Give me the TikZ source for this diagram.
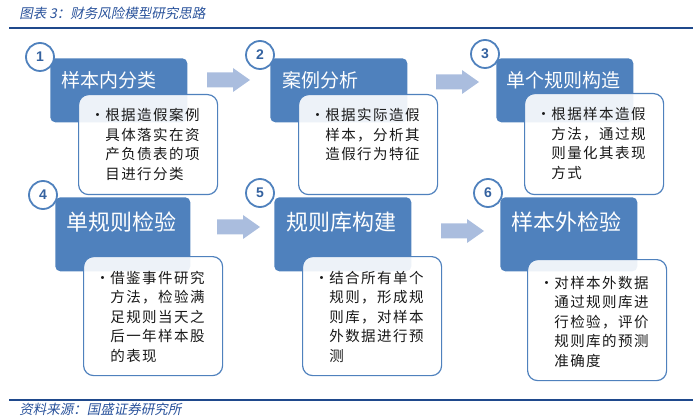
\documentclass[tikz,border=0pt]{standalone}
\usepackage{fontspec}
\setmainfont{Noto Sans CJK SC}
\newfontfamily\numfont{Liberation Sans}
\newfontfamily\notefont[LetterSpace=10]{Noto Sans CJK SC}
\newfontfamily\capfont[FakeSlant=0.2]{Noto Sans CJK SC}
\usepackage{tikz}
\definecolor{boxblue}{RGB}{79,129,189}
\definecolor{numblue}{RGB}{52,98,160}
\definecolor{arrowblue}{RGB}{170,189,222}
\definecolor{capblue}{RGB}{41,82,155}
\definecolor{ruleblue}{RGB}{31,73,140}

\begin{document}
\begin{tikzpicture}[x=1pt,y=-1pt,semithick]

  \tikzstyle{headbox}=[fill=boxblue,draw=none,rounded corners=5pt,anchor=north west,
                       inner sep=0pt,minimum width=137pt,minimum height=64pt]
  \tikzstyle{headtext}=[anchor=west,inner sep=0pt,text=white]
  \tikzstyle{notebox}=[draw=boxblue,line width=1.2pt,fill=white,fill opacity=0.9,
                       rounded corners=10pt,anchor=north west,inner sep=0pt,
                       minimum width=139pt,minimum height=100pt]
  \tikzstyle{notetext}=[anchor=base west,inner sep=0pt,text width=130pt,align=left,
                        text=black!90,font=\notefont\fontsize{14.5}{19.5}\selectfont]
  \tikzstyle{numcircle}=[circle,draw=boxblue,line width=1.8pt,fill=white,inner sep=0pt,
                         minimum size=28pt,text=numblue,
                         font=\numfont\bfseries\fontsize{14}{14}\selectfont]

  \useasboundingbox (0,0) rectangle (700,419);

  % caption and rules
  \node[anchor=west,inner sep=0pt,text=capblue,font=\capfont\fontsize{13.5}{13.5}\selectfont]
        (C) at (19,13) {图表 3：财务风险模型研究思路};
  \draw[ruleblue,line width=2pt] (9,28) -- (693,28);
  \draw[ruleblue,line width=1.5pt] (9,400) -- (693,400);
  \node[anchor=west,inner sep=0pt,text=capblue,font=\capfont\fontsize{13.5}{13.5}\selectfont]
        (S) at (19,409) {资料来源：国盛证券研究所};

  % blocks
  \node[headbox]                       (B1) at (50,58)   {};
  \node[headbox]                       (B2) at (270,58)  {};
  \node[headbox]                       (B3) at (496,58)  {};
  \node[headbox,minimum width=135pt,minimum height=74pt] (B4) at (55,197) {};
  \node[headbox,minimum height=74pt]   (B5) at (274,197) {};
  \node[headbox,minimum height=74pt]   (B6) at (500,197) {};

  \node[headtext,font=\fontsize{19}{19}\selectfont] (H1) at ([shift={(11,22)}]B1.north west) {样本内分类};
  \node[headtext,font=\fontsize{19}{19}\selectfont] (H2) at ([shift={(12,22)}]B2.north west) {案例分析};
  \node[headtext,font=\fontsize{19}{19}\selectfont] (H3) at ([shift={(10,22)}]B3.north west) {单个规则构造};
  \node[headtext,font=\fontsize{22}{22}\selectfont] (H4) at ([shift={(11,25)}]B4.north west) {单规则检验};
  \node[headtext,font=\fontsize{22}{22}\selectfont] (H5) at ([shift={(12,25)}]B5.north west) {规则库构建};
  \node[headtext,font=\fontsize{22}{22}\selectfont] (H6) at ([shift={(11,25)}]B6.north west) {样本外检验};

  \node[notebox]                      (W1) at ([shift={(28,36)}]B1.north west) {};
  \node[notebox]                      (W2) at ([shift={(28,36)}]B2.north west) {};
  \node[notebox,minimum height=101pt] (W3) at ([shift={(28,35)}]B3.north west) {};
  \node[notebox,minimum height=119pt] (W4) at ([shift={(28,59)}]B4.north west) {};
  \node[notebox,minimum height=119pt] (W5) at ([shift={(28,59)}]B5.north west) {};
  \node[notebox,minimum height=121pt] (W6) at ([shift={(27,62)}]B6.north west) {};

  \node[notetext] (X1) at ([shift={(11,27)}]W1.north west)
        {\noindent\hangindent=16pt\hangafter=1\makebox[16pt][l]{\hspace{1pt}\textbullet}根据造假案例\newline
         具体落实在资\newline 产负债表的项\newline 目进行分类\par};
  \node[notetext] (X2) at ([shift={(11,27)}]W2.north west)
        {\noindent\hangindent=16pt\hangafter=1\makebox[16pt][l]{\hspace{1pt}\textbullet}根据实际造假\newline
         样本，分析其\newline 造假行为特征\par};
  \node[notetext] (X3) at ([shift={(11,27)}]W3.north west)
        {\noindent\hangindent=16pt\hangafter=1\makebox[16pt][l]{\hspace{1pt}\textbullet}根据样本造假\newline
         方法，通过规\newline 则量化其表现\newline 方式\par};
  \node[notetext] (X4) at ([shift={(11,27)}]W4.north west)
        {\noindent\hangindent=16pt\hangafter=1\makebox[16pt][l]{\hspace{1pt}\textbullet}借鉴事件研究\newline
         方法，检验满\newline 足规则当天之\newline 后一年样本股\newline 的表现\par};
  \node[notetext] (X5) at ([shift={(11,27)}]W5.north west)
        {\noindent\hangindent=16pt\hangafter=1\makebox[16pt][l]{\hspace{1pt}\textbullet}结合所有单个\newline
         规则，形成规\newline 则库，对样本\newline 外数据进行预\newline 测\par};
  \node[notetext] (X6) at ([shift={(11,29)}]W6.north west)
        {\noindent\hangindent=16pt\hangafter=1\makebox[16pt][l]{\hspace{1pt}\textbullet}对样本外数据\newline
         通过规则库进\newline 行检验，评价\newline 规则库的预测\newline 准确度\par};

  \node[numcircle] (N1) at (40,57)  {1};
  \node[numcircle] (N2) at (260,55) {2};
  \node[numcircle] (N3) at (485,54) {3};
  \node[numcircle] (N4) at (43,195) {4};
  \node[numcircle] (N5) at (260,193) {5};
  \node[numcircle] (N6) at (488,193) {6};

  % block arrows between the steps
  \foreach \x/\y in {207/80, 436/82, 217/227, 441/231}
    \fill[arrowblue] (\x,\y-7.5) -- ++(26,0) -- ++(0,-4.5) -- ++(17,12)
                     -- ++(-17,12) -- ++(0,-4.5) -- ++(-26,0) -- cycle;
\end{tikzpicture}
\end{document}
